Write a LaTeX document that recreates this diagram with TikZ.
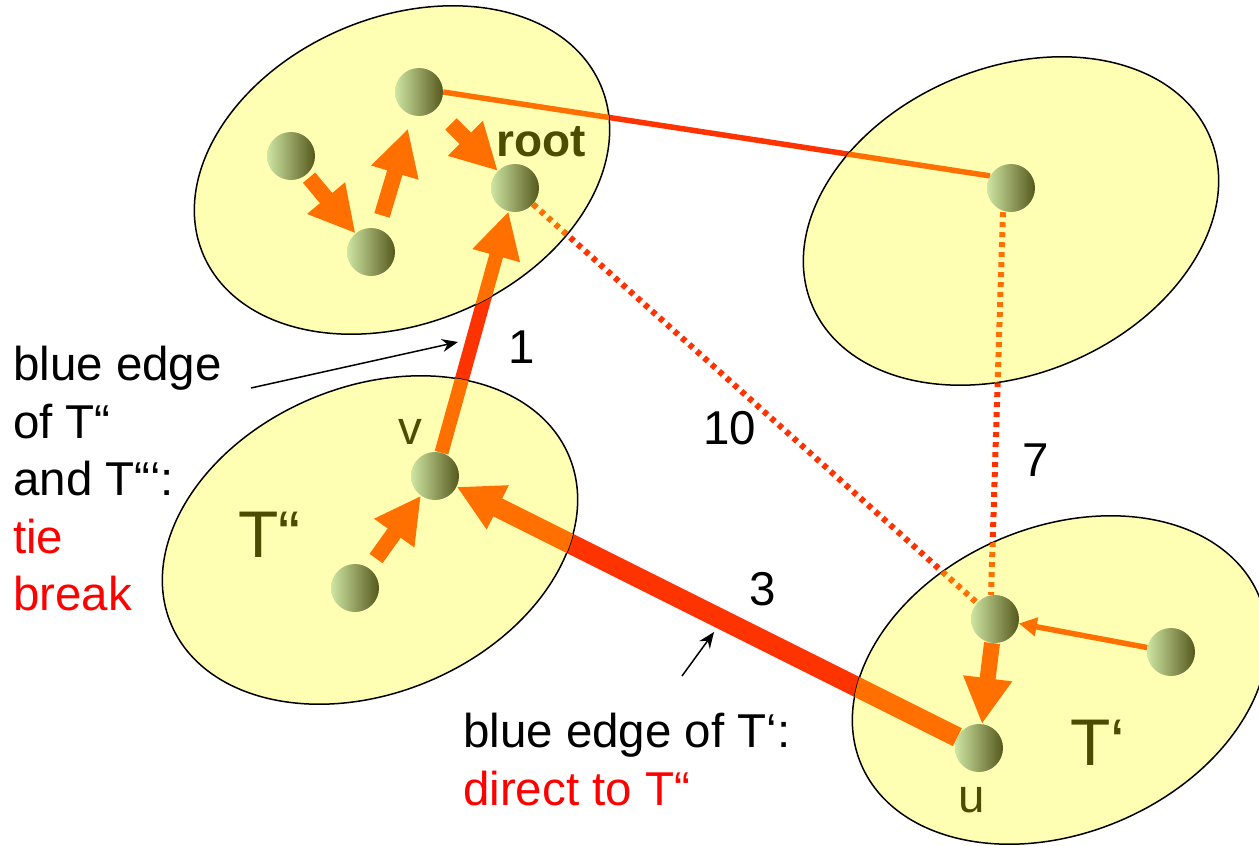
\documentclass[tikz,border=0pt]{standalone}
\usepackage{fontspec}
\setmainfont{Liberation Sans}
\usetikzlibrary{arrows.meta,shapes.geometric}

\definecolor{linkred}{HTML}{FF3300}
\definecolor{linkorange}{HTML}{FF7000}
\definecolor{fragyellow}{HTML}{FFFFB3}
\definecolor{olivetext}{HTML}{4D4D00}
\definecolor{balllight}{HTML}{CFE6A3}
\definecolor{balldark}{HTML}{55581C}

\pgfdeclarelayer{outside}
\pgfdeclarelayer{fragments}
\pgfdeclarelayer{inside}
\pgfsetlayers{outside,fragments,inside,main}

\newcommand{\linkset}[1]{%
  \draw[link, #1] (ntop.east) -- (rnode.150);
  \draw[dotlink, #1] (root) -- (tup);
  \draw[dotlink, #1] ([xshift=-8pt]rnode.south) -- ([xshift=-4pt]tup.north);
  \draw[heavy, line width=14pt, #1] (v) -- (root);
  \draw[heavy, line width=20pt, #1] (u) -- (v);
}

\begin{document}
\begin{tikzpicture}[x=1pt, y=-1pt,
    ball/.style={circle, minimum size=48pt, inner sep=0pt, left color=balllight, middle color=balllight!72!balldark, right color=balldark},
    fragment/.style={ellipse, draw, line width=1.5pt, fill=fragyellow, minimum width=432pt, minimum height=306pt, inner sep=0pt, rotate=23},
    link/.style={line width=5.5pt},
    dotlink/.style={line width=6pt, dash pattern=on 5pt off 5pt},
    heavy/.style={-{Triangle[width=46pt, length=46pt]}},
    block/.style={linkorange, line width=16pt, -{Triangle[width=46pt, length=46pt]}},
    thinarrow/.style={linkorange, line width=5.5pt, -{Triangle[width=18pt, length=18pt]}},
    pointer/.style={line width=1.5pt, -{Stealth[width=13pt, length=16pt]}},
    txt/.style={inner sep=0pt, font=\fontsize{47.5}{57.5}\selectfont},
    olive/.style={txt, text=olivetext},
    big/.style={inner sep=0pt, text=olivetext, font=\fontsize{66}{66}\selectfont}]
    \useasboundingbox (0,0) rectangle (1259,846);

    \node[ball] (ntop) at (419,92) {};
    \node[ball] (nleft) at (291,156) {};
    \node[ball] (nbottom) at (371,252) {};
    \node[ball] (root) at (515,188) {};
    \node[ball] (rnode) at (1011,188) {};
    \node[ball] (v) at (435,476) {};
    \node[ball] (nlow) at (355,588) {};
    \node[ball] (tup) at (995,619) {};
    \node[ball] (tright) at (1171,652) {};
    \node[ball] (u) at (979,748) {};

    \begin{pgfonlayer}{outside}
        \linkset{linkred}
    \end{pgfonlayer}

    \begin{pgfonlayer}{fragments}
        \node[fragment] (c1) at (402,170) {};
        \node[fragment] (c2) at (1011,221) {};
        \node[fragment] (c3) at (370,540) {};
        \node[fragment] (c4) at (1060,680) {};
    \end{pgfonlayer}

    \begin{pgfonlayer}{inside}
        \foreach \frag in {c1,c2,c3,c4}{
            \begin{scope}
                \clip[rotate around={23:(\frag.center)}] (\frag.center) ellipse [x radius=216pt, y radius=153pt];
                \linkset{linkorange}
            \end{scope}
        }
        \draw[block, shorten <=4pt] (nleft) -- (nbottom);
        \draw[block, shorten <=14pt, shorten >=14pt] (nbottom) -- (ntop);
        \draw[block, shorten <=21pt] (ntop) -- (root);
        \draw[block, shorten <=12pt] (nlow) -- (v);
        \draw[block] (tup) -- (u);
        \draw[thinarrow] (tright) -- (tup);
    \end{pgfonlayer}

    \node[olive, font=\fontsize{46}{46}\selectfont\bfseries, anchor=base] (rootlabel) at (541,156) {root};
    \node[olive] (vlabel) at (410,432) {v};
    \node[olive] (ulabel) at (972,800) {u};
    \node[big, anchor=base west] (tpplabel) at (238,557) {T“};
    \node[big, anchor=base west] (tplabel) at (1070,765) {T‘};

    \node[txt] (w1) at (522,347) {1};
    \node[txt] (w10) at (730,428) {10};
    \node[txt] (w7) at (1036,460) {7};
    \node[txt] (w3) at (763,589) {3};

    \node[txt, align=left, anchor=north west] (tienote) at (13,346) {blue edge\\of T“\\and T“‘:\\\textcolor{red}{tie}\\\textcolor{red}{break}};
    \node[txt, align=left, anchor=north west] (directnote) at (463,713) {blue edge of T‘:\\\textcolor{red}{direct to T“}};

    \coordinate (tietail) at (251,388);
    \coordinate (tietip) at (458,342);
    \coordinate (directtail) at (682,676);
    \coordinate (directtip) at (714,632);
    \draw[pointer] (tietail) -- (tietip);
    \draw[pointer] (directtail) -- (directtip);
\end{tikzpicture}
\end{document}
